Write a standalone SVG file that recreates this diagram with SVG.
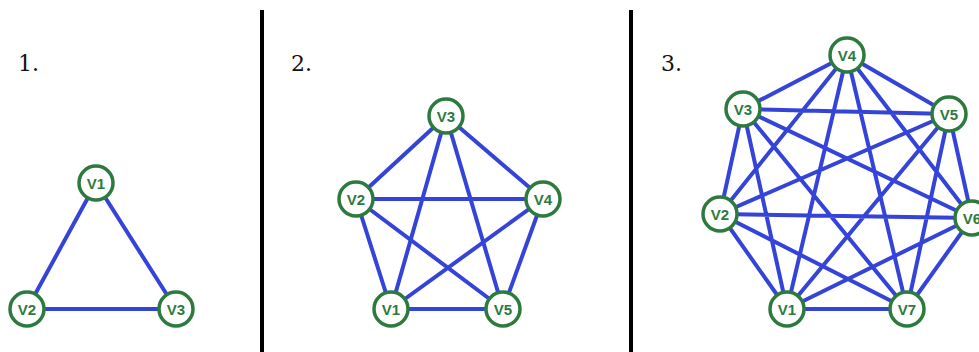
<svg xmlns="http://www.w3.org/2000/svg" width="979" height="352" viewBox="0 0 979 352">
<style>
.e{stroke:#3544d8;stroke-width:4;fill:none}
.n circle{fill:#fff;stroke:#2d7a3e;stroke-width:3.5}
.n text{font-family:"Liberation Sans",Arial,sans-serif;font-weight:bold;font-size:15px;fill:#2d7a3e;text-anchor:middle;dominant-baseline:central}
.lbl{font-family:"DejaVu Serif","Liberation Serif",serif;font-size:22px;fill:#111}
.sep{stroke:#000;stroke-width:4}
</style>
<rect width="979" height="352" fill="#fff"/>
<line class="sep" x1="262" y1="10" x2="262" y2="352"/>
<line class="sep" x1="631" y1="10" x2="631" y2="352"/>
<text class="lbl" x="18" y="71">1.</text>
<text class="lbl" x="291" y="71">2.</text>
<text class="lbl" x="661" y="71">3.</text>
<g id="connectors">
<path class="e" d="M96 183L27 309M96 183L176 309M27 309L176 309"/>
<path class="e" d="M446 116L356 199M446 116L543 199M446 116L391 309M446 116L503 309M356 199L543 199M356 199L391 309M356 199L503 309M543 199L391 309M543 199L503 309M391 309L503 309"/>
<path class="e" d="M847 55L743 109M847 55L949 114M847 55L720 214M847 55L972 218M847 55L787 309M847 55L907 309
M743 109L949 114M743 109L720 214M743 109L972 218M743 109L787 309M743 109L907 309
M949 114L720 214M949 114L972 218M949 114L787 309M949 114L907 309
M720 214L972 218M720 214L787 309M720 214L907 309
M972 218L787 309M972 218L907 309
M787 309L907 309"/>
</g>
<g id="g1v1" class="n"><circle cx="96" cy="183" r="17"/><text x="96" y="183">V1</text></g>
<g id="g1v2" class="n"><circle cx="27" cy="309" r="17"/><text x="27" y="309">V2</text></g>
<g id="g1v3" class="n"><circle cx="176" cy="309" r="17"/><text x="176" y="309">V3</text></g>
<g id="g2v1" class="n"><circle cx="391" cy="309" r="17"/><text x="391" y="309">V1</text></g>
<g id="g2v2" class="n"><circle cx="356" cy="199" r="17"/><text x="356" y="199">V2</text></g>
<g id="g2v3" class="n"><circle cx="446" cy="116" r="17"/><text x="446" y="116">V3</text></g>
<g id="g2v4" class="n"><circle cx="543" cy="199" r="17"/><text x="543" y="199">V4</text></g>
<g id="g2v5" class="n"><circle cx="503" cy="309" r="17"/><text x="503" y="309">V5</text></g>
<g id="g3v1" class="n"><circle cx="787" cy="309" r="17"/><text x="787" y="309">V1</text></g>
<g id="g3v2" class="n"><circle cx="720" cy="214" r="17"/><text x="720" y="214">V2</text></g>
<g id="g3v3" class="n"><circle cx="743" cy="109" r="17"/><text x="743" y="109">V3</text></g>
<g id="g3v4" class="n"><circle cx="847" cy="55" r="17"/><text x="847" y="55">V4</text></g>
<g id="g3v5" class="n"><circle cx="949" cy="114" r="17"/><text x="949" y="114">V5</text></g>
<g id="g3v6" class="n"><circle cx="972" cy="218" r="17"/><text x="972" y="218">V6</text></g>
<g id="g3v7" class="n"><circle cx="907" cy="309" r="17"/><text x="907" y="309">V7</text></g>
</svg>
